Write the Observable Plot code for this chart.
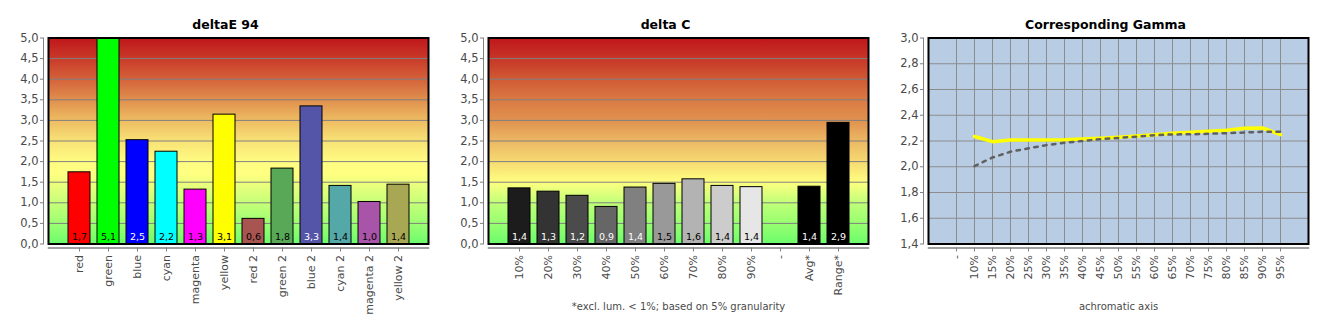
<!DOCTYPE html>
<html>
<head>
<meta charset="utf-8">
<script src="https://cdn.jsdelivr.net/npm/d3@7"></script>
<script src="https://cdn.jsdelivr.net/npm/@observablehq/plot@0.6"></script>
<style>
  body { margin: 0; background: #fff; }
  #wrap { position: relative; width: 1330px; height: 330px; overflow: hidden; background: #fff; }
  .panel { position: absolute; top: 0; }
</style>
</head>
<body>
<svg width="0" height="0" style="position:absolute">
  <defs>
    <linearGradient id="gradE" x1="0" y1="0" x2="0" y2="1">
      <stop offset="0" stop-color="#c0161b"/>
      <stop offset="0.1" stop-color="#c93a29"/>
      <stop offset="0.2" stop-color="#d4623a"/>
      <stop offset="0.3" stop-color="#e0904e"/>
      <stop offset="0.4" stop-color="#eebc62"/>
      <stop offset="0.5" stop-color="#f8e276"/>
      <stop offset="0.6" stop-color="#fffc82"/>
      <stop offset="0.66" stop-color="#ffff80"/>
      <stop offset="0.8" stop-color="#c6ff78"/>
      <stop offset="0.9" stop-color="#9cff72"/>
      <stop offset="1" stop-color="#6cfc6c"/>
    </linearGradient>
    <linearGradient id="gradC" x1="0" y1="0" x2="0" y2="1">
      <stop offset="0" stop-color="#c0161b"/>
      <stop offset="0.1" stop-color="#c73627"/>
      <stop offset="0.2" stop-color="#d05a34"/>
      <stop offset="0.3" stop-color="#da7a44"/>
      <stop offset="0.4" stop-color="#e0924f"/>
      <stop offset="0.5" stop-color="#ecb864"/>
      <stop offset="0.6" stop-color="#f6da72"/>
      <stop offset="0.7" stop-color="#ffff80"/>
      <stop offset="0.8" stop-color="#c0ff78"/>
      <stop offset="0.9" stop-color="#98ff70"/>
      <stop offset="1" stop-color="#6cfc6c"/>
    </linearGradient>
  </defs>
</svg>
<div id="wrap">
  <div class="panel" id="p1" style="left:0px"></div>
  <div class="panel" id="p2" style="left:440px"></div>
  <div class="panel" id="p3" style="left:880px"></div>
</div>
<script>
// ---- data ----
const deltaECategories = ["red", "green", "blue", "cyan", "magenta", "yellow", "red 2", "green 2", "blue 2", "cyan 2", "magenta 2", "yellow 2"];
const deltaEValues = [1.74, 5.1, 2.52, 2.24, 1.32, 3.14, 0.61, 1.83, 3.34, 1.41, 1.02, 1.44];
const deltaEColors = ["#ff0000", "#00ff00", "#0000ff", "#00ffff", "#ff00ff", "#ffff00", "#a85450", "#58a858", "#5454a8", "#54a8a8", "#a854a8", "#a8a854"];
const deltaEInk = ["#000", "#000", "#fff", "#000", "#000", "#000", "#000", "#000", "#fff", "#000", "#000", "#000"];

const deltaCCategories = ["10%", "20%", "30%", "40%", "50%", "60%", "70%", "80%", "90%", "-", "Avg*", "Range*"];
const deltaCValues = [1.35, 1.27, 1.17, 0.9, 1.37, 1.46, 1.57, 1.41, 1.38, null, 1.39, 2.94];
const deltaCColors = ["#1c1c1c", "#333333", "#4b4b4b", "#666666", "#808080", "#999999", "#b3b3b3", "#cccccc", "#e6e6e6", "#000000", "#000000", "#000000"];
const deltaCInk = ["#fff", "#fff", "#fff", "#fff", "#fff", "#000", "#000", "#000", "#000", "#fff", "#fff", "#fff"];

const deltaTicks = [0, 0.5, 1, 1.5, 2, 2.5, 3, 3.5, 4, 4.5, 5];

const gammaCategories = ["-", "10%", "15%", "20%", "25%", "30%", "35%", "40%", "45%", "50%", "55%", "60%", "65%", "70%", "75%", "80%", "85%", "90%", "95%"];
const gammaMeasured = [null, 2.235, 2.195, 2.207, 2.207, 2.207, 2.209, 2.215, 2.221, 2.229, 2.238, 2.249, 2.261, 2.268, 2.276, 2.284, 2.299, 2.301, 2.25];
const gammaTarget = [null, 2.005, 2.072, 2.117, 2.143, 2.168, 2.186, 2.2, 2.214, 2.224, 2.234, 2.245, 2.251, 2.252, 2.256, 2.261, 2.266, 2.272, 2.272];
const gammaTicks = [1.4, 1.6, 1.8, 2.0, 2.2, 2.4, 2.6, 2.8, 3.0];

// ---- helpers ----
const fmt1 = v => d3.format(".1f")(v).replace(".", ",");
const FONT = "DejaVu Sans";
const axisGray = "#808080";
const textGray = "#4a4a4a";

function barPanel({title, categories, values, colors, inks, gradient, footnote}) {
  const data = categories.map((c, i) => ({c, v: values[i], color: colors[i], ink: inks[i]}));
  const bars = data.filter(d => d.v != null);
  return Plot.plot({
    width: 440, height: 330,
    marginTop: 37.5, marginBottom: 86.5, marginLeft: 48, marginRight: 12,
    style: {fontFamily: FONT, fontSize: "11px", background: "transparent", overflow: "visible"},
    x: {type: "band", domain: categories, paddingInner: 0.25, paddingOuter: 0.625, label: null},
    y: {domain: [0, 5], label: null},
    color: {type: "identity"},
    marks: [
      Plot.frame({fill: `url(#${gradient})`}),
      Plot.gridY(deltaTicks, {stroke: axisGray, strokeOpacity: 1, strokeWidth: 1}),
      Plot.barY(bars, {x: "c", y: "v", fill: d => d.color, stroke: "#000", strokeWidth: 1, clip: true}),
      Plot.text(bars, {x: "c", y: () => 0, text: d => fmt1(d.v), fill: d => d.ink, dy: -7, fontSize: 9.5}),
      Plot.frame({stroke: "#000", strokeWidth: 2}),
      Plot.frame({anchor: "left", stroke: axisGray, strokeWidth: 1, dx: -5}),
      Plot.frame({anchor: "bottom", stroke: axisGray, strokeWidth: 1.5, dy: 4}),
      Plot.axisY(deltaTicks, {tickFormat: fmt1, tickSize: 3, tickPadding: 2, dx: -5, stroke: axisGray, fill: textGray, fontSize: 11.5, label: null}),
      Plot.axisX({tickRotate: -90, tickSize: 4, tickPadding: 3, dy: 4, stroke: axisGray, fill: textGray, label: null}),
      Plot.text([title], {frameAnchor: "top", dy: -18, dx: -13, fontWeight: "bold", fontSize: 12.5, fill: "#000"}),
      footnote ? Plot.text([footnote], {frameAnchor: "bottom", dy: 66, fontSize: 10, fill: textGray}) : null
    ]
  });
}

document.getElementById("p1").append(barPanel({
  title: "deltaE 94", categories: deltaECategories, values: deltaEValues,
  colors: deltaEColors, inks: deltaEInk, gradient: "gradE"
}));

document.getElementById("p2").append(barPanel({
  title: "delta C", categories: deltaCCategories, values: deltaCValues,
  colors: deltaCColors, inks: deltaCInk, gradient: "gradC",
  footnote: "*excl. lum. < 1%; based on 5% granularity"
}));

// gamma panel
const gammaRows = gammaCategories.map((c, i) => ({c, m: gammaMeasured[i], t: gammaTarget[i]}));
const measuredRows = gammaRows.filter(d => d.m != null);
const targetRows = gammaRows.filter(d => d.t != null);

document.getElementById("p3").append(Plot.plot({
  width: 450, height: 330,
  marginTop: 37.5, marginBottom: 86.5, marginLeft: 48, marginRight: 22,
  style: {fontFamily: FONT, fontSize: "11px", background: "transparent", overflow: "visible"},
  x: {type: "point", domain: gammaCategories, padding: 1.43, label: null},
  y: {domain: [1.4, 3.0], label: null},
  marks: [
    Plot.frame({fill: "#b8cce4"}),
    Plot.gridY(gammaTicks, {stroke: "#8c8c8c", strokeOpacity: 1, strokeWidth: 1}),
    Plot.gridX(gammaCategories, {stroke: "#8c8c8c", strokeOpacity: 1, strokeWidth: 1}),
    Plot.line(measuredRows, {x: "c", y: "m", stroke: "#ffff00", strokeWidth: 3.5}),
    Plot.line(targetRows, {x: "c", y: "t", stroke: "#606060", strokeWidth: 2.5, strokeDasharray: "3.5,5.5"}),
    Plot.frame({stroke: "#000", strokeWidth: 2}),
    Plot.frame({anchor: "left", stroke: axisGray, strokeWidth: 1, dx: -5}),
    Plot.frame({anchor: "bottom", stroke: axisGray, strokeWidth: 1.5, dy: 4}),
    Plot.axisY(gammaTicks, {tickFormat: fmt1, tickSize: 3, tickPadding: 2, dx: -5, stroke: axisGray, fill: textGray, fontSize: 11.5, label: null}),
    Plot.axisX({tickRotate: -90, tickSize: 4, tickPadding: 3, dy: 4, stroke: axisGray, fill: textGray, label: null}),
    Plot.text(["Corresponding Gamma"], {frameAnchor: "top", dy: -18, dx: -13, fontWeight: "bold", fontSize: 12.5, fill: "#000"}),
    Plot.text(["achromatic axis"], {frameAnchor: "bottom", dy: 66, fontSize: 10, fill: textGray})
  ]
}));
</script>
</body>
</html>
